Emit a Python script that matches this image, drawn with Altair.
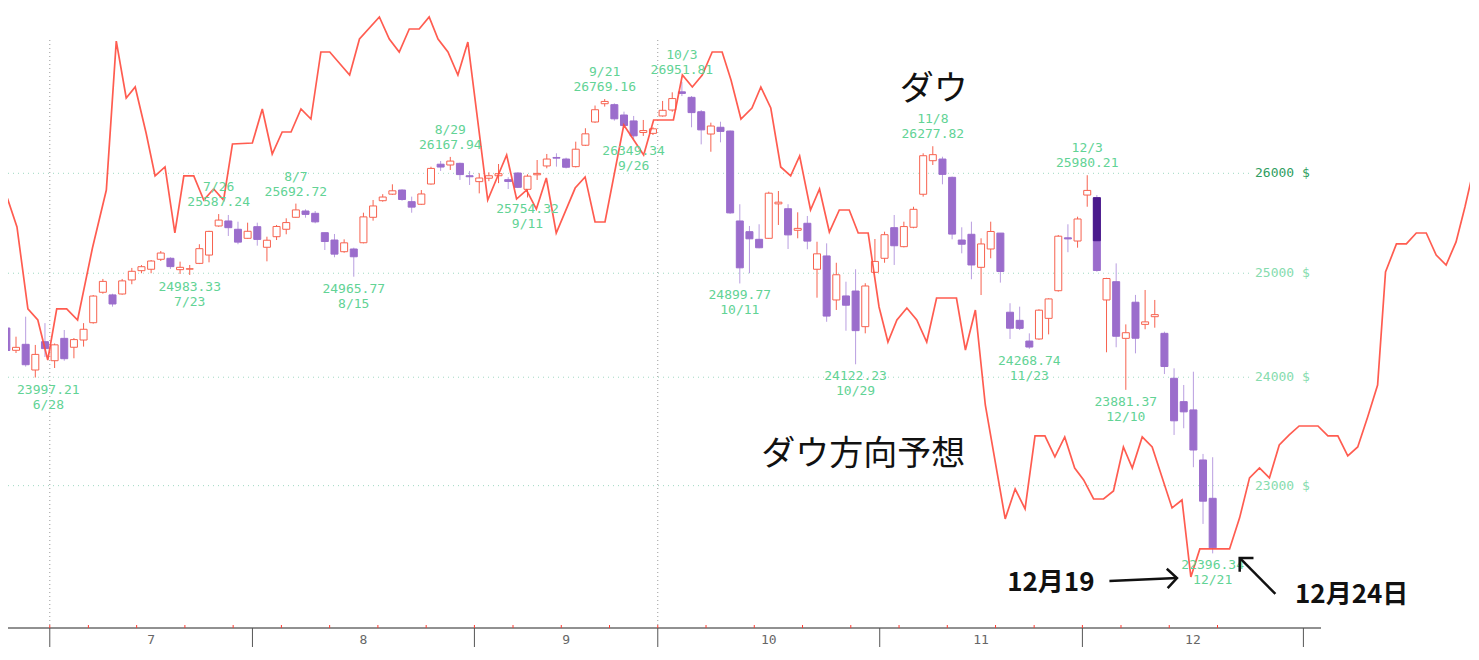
import altair as alt
import pandas as pd

# ---------------- data ----------------
holidays = ["2018-07-04", "2018-09-03", "2018-11-22", "2018-12-05"]
days = [d for d in pd.bdate_range("2018-06-25", "2018-12-21")
        if d.strftime("%Y-%m-%d") not in holidays]
day_labels = [f"{d.month}/{d.day}" for d in days]

opens = [24468, 24255, 24312, 24068, 24337,
         24156, 24369, 24284, 24353, 24519, 24814, 24788, 24797, 24934, 25025, 25039, 25137, 25147, 25035, 25040,
         25097, 25179, 25468, 25518, 25435, 25345,
         25461, 25256, 25361, 25435, 25555, 25618, 25595, 25401, 25328, 25212, 25239, 25301, 25555, 25722, 25788,
         25830, 25712, 25686, 25891, 26093, 26085, 26102, 25975,
         25915, 25950, 25975, 25935, 26003, 25837, 25985, 26075, 26162, 26146, 26068, 26288, 26529, 26720, 26710,
         26602, 26540, 26420, 26411,
         26592, 26654, 26845, 26787, 26636, 26404, 26474, 26435, 25518, 25411, 25335, 25345, 25690, 25641, 25425,
         25495, 25039, 25170, 24739, 24778, 24826, 24481, 25009,
         25147, 25451, 25262, 25455, 25787, 26129, 26146, 25959, 25328, 25385, 25058, 25239, 25397, 24620, 24542,
         24343, 24363, 24561, 24829, 25350, 25318,
         25779, 25752, 24739, 24917, 24369, 24717, 24503, 24577, 24417, 23990, 23771, 23694, 23233, 22886]
highs = [24520, 24385, 24577, 24306, 24515,
         24320, 24449, 24372, 24515, 24787, 24944, 24800, 24944, 25052, 25080, 25130, 25219, 25157, 25114, 25081,
         25286, 25420, 25587.24, 25578, 25511, 25501,
         25501, 25361, 25478, 25545, 25692.72, 25635, 25618, 25401, 25388, 25335, 25252, 25601, 25729, 25788, 25888,
         25837, 25763, 25830, 26067, 26126, 26167.94, 26109, 26024,
         26000, 26010, 26095, 25960, 26010, 25990, 26136, 26198, 26205, 26160, 26325, 26464, 26701, 26769.16, 26724,
         26637, 26592, 26550, 26474,
         26749, 26840, 26951.81, 26801, 26654, 26522, 26532, 26440, 25686, 25468, 25485, 25813, 25820, 25686, 25605,
         25568, 25311, 25295, 25103, 24917, 25039, 24902, 25338,
         25411, 25578, 25511, 25661, 26205, 26277.82, 26170, 25966, 25455, 25511, 25345, 25511, 25397, 24707, 24674,
         24417, 24649, 24755, 25378, 25485, 25561,
         25980.21, 25779, 24955, 25097, 24503, 24788, 24836, 24739, 24433, 24084, 23927, 24052, 23288, 23258]
lows = [24087, 24229, 24100, 23997.21, 24191,
        24087, 24156, 24179, 24290, 24510, 24800, 24674, 24790, 24892, 25000, 25000, 25120, 25042, 24993, 24983.33,
        25090, 25107, 25460, 25368, 25286, 25340,
        25272, 25117, 25328, 25385, 25550, 25551, 25495, 25229, 25157, 25202, 24965.77, 25295, 25521, 25712, 25780,
        25722, 25601, 25680, 25885, 26024, 26034, 25932, 25881,
        25796, 25920, 25900, 25840, 25850, 25754.32, 25932, 26051, 26068, 26050, 26060, 26280, 26520, 26690, 26543,
        26480, 26349.34, 26384, 26394,
        26585, 26636, 26800, 26474, 26297, 26221, 26318, 25590, 24899.77, 25000, 25246, 25340, 25478, 25239, 25345,
        25236, 24761, 24528, 24642, 24442, 24122.23, 24417, 25002,
        25103, 25081, 25255, 25445, 25763, 26085, 25888, 25335, 25196, 24941, 24787, 25147, 24908, 24363, 24449,
        24268.74, 24355, 24407, 24820, 25207, 25252,
        25661, 25015, 24236, 24284, 23881.37, 24226, 24456, 24471, 24030, 23462, 23524, 23167, 22657, 22396.34]
closes = [24253, 24283, 24118, 24216, 24271,
          24307, 24175, 24357, 24456, 24777, 24920, 24700, 24925, 25019, 25064, 25120, 25199, 25065, 25058, 25044,
          25242, 25414, 25527, 25451, 25307, 25415,
          25334, 25326, 25463, 25502, 25629, 25584, 25509, 25313, 25188, 25300, 25162, 25559, 25669, 25759, 25822,
          25734, 25657, 25790, 26050, 26064, 26125, 25987, 25965,
          25952, 25975, 25996, 25917, 25857, 25971, 25999, 26146, 26155, 26062, 26247, 26406, 26657, 26744, 26562,
          26492, 26385, 26440, 26458,
          26651, 26774, 26828, 26627, 26447, 26487, 26431, 25599, 25053, 25340, 25251, 25798, 25707, 25379, 25444,
          25317, 25191, 24583, 24985, 24688, 24443, 24875, 25116,
          25381, 25271, 25462, 25635, 26180, 26191, 25989, 25387, 25286, 25081, 25289, 25413, 25017, 24466, 24465,
          24286, 24640, 24749, 25366, 25339, 25538,
          25826, 25027, 24948, 24389, 24423, 24370, 24527, 24597, 24101, 23593, 23676, 23324, 22860, 22445]

# highlighted (dark) part of the 12/4 candle
hl_date = "12/4"
hl_top, hl_bottom = 25752, 25321

# forecast line "ダウ方向予想": x in trading-day positions, y in dollars
fc_x = [-0.14, 0.17, 1.10, 2.23, 3.26, 4.29, 5.22, 6.25, 7.38, 8.92, 10.36, 11.39, 12.42, 13.35, 14.48,
        15.41, 16.44, 17.46, 18.39, 19.42, 20.45, 21.48, 22.51, 23.43, 25.49, 26.52, 27.55, 28.58, 29.50,
        30.53, 31.56, 32.59, 33.51, 35.57, 36.59, 38.65, 39.68, 40.71, 41.75, 42.78, 43.81, 44.73, 45.76,
        46.79, 47.82, 49.88, 51.84, 52.87, 53.90, 54.92, 55.95, 56.98, 58.94, 59.97, 61.00, 62.03, 63.98,
        66.04, 67.07, 69.12, 70.05, 71.08, 72.11, 73.14, 74.17, 75.09, 76.12, 77.26, 78.18, 79.21, 80.24,
        81.27, 82.20, 83.33, 84.26, 85.28, 86.31, 87.34, 88.27, 89.30, 90.43, 91.35, 92.28, 93.31, 94.34,
        95.37, 96.39, 98.45, 99.38, 100.41, 101.44, 103.50, 104.53, 105.56, 106.59, 107.62, 108.65, 109.67,
        110.70, 111.63, 112.66, 113.69, 114.72, 115.75, 116.67, 117.70, 118.73, 120.79, 121.82, 122.74,
        123.67, 126.75, 127.79, 128.82, 129.85, 130.88, 131.90, 132.93, 133.96, 135.91, 136.94, 137.97,
        139.00, 140.03, 141.06, 142.09, 142.91, 144.04, 145.07, 146.10, 147.13, 148.16, 149.19, 150.22,
        151.14, 152.07]
fc_y = [25678, 25729, 25458, 24652, 24545, 24163, 24652, 24652, 24545, 25249, 25830, 27385, 26780, 26896, 26415,
        25973, 26065, 25398, 25973, 25973, 25729, 25840, 25729, 26301, 26311, 26665, 26198, 26425, 26425,
        26665, 26560, 27268, 27268, 27023, 27407, 27645, 27407, 27268, 27515, 27515, 27645, 27407, 27268,
        27023, 27374, 25729, 26188, 25739, 25830, 25638, 25952, 25398, 25850, 25963, 25508, 25508, 26498,
        26188, 26550, 26550, 27023, 26896, 27023, 27268, 27268, 26970, 26560, 26675, 26896, 26675, 26065,
        25973, 26177, 25628, 25840, 25408, 25628, 25628, 25398, 25398, 24671, 24334, 24545, 24661, 24545,
        24334, 24758, 24758, 24258, 24642, 23740, 22702, 22970, 22791, 23453, 23453, 23261, 23444,
        23160, 23052, 22880, 22880, 22952, 23352, 23160, 23444, 23352, 22800, 22871, 22190,
        22436, 22436, 22711, 23070, 23160, 23070, 23370, 23462, 23545, 23545, 23453, 23453,
        23270, 23352, 23629, 23927, 25012, 25289, 25289, 25398, 25398, 25179, 25081, 25309,
        25659, 26055]

# marked highs and lows
low_marks = ["6/28", "7/23", "8/15", "9/11", "9/26", "10/11", "10/29", "11/23", "12/10", "12/21"]
high_marks = ["7/26", "8/7", "8/29", "9/21", "10/3", "11/8", "12/3"]

# axis
price_levels = [23000, 24000, 25000, 26000]
month_names = ["7", "8", "9", "10", "11", "12"]
jan_edge = 134.4          # start of January on the (future) axis
quarter_months = ["7", "10"]

# annotations (position in trading days / dollars)
notes = pd.DataFrame({
    "text": ["ダウ", "ダウ方向予想"],
    "x": [96.09, 88.78],
    "y": [26864, 23279],
})
bold_notes = pd.DataFrame({
    "text": ["12月19", "12月24日"],
    "x": [108.23, 139.4],
    "y": [22138, 22034],
})
arrows = pd.DataFrame({
    "x": [114.3, 131.5], "y": [22155, 22043],
    "x2": [121.3, 127.8], "y2": [22181, 22357],
    "ang": [357.5, 225.0],
})

# ---------------- build tables ----------------
candles = pd.DataFrame({
    "i": list(range(len(days))), "date": day_labels,
    "open": opens, "high": highs, "low": lows, "close": closes,
})
up = candles[candles.close >= candles.open]
down = candles[candles.close < candles.open]
hl = candles[candles.date == hl_date].assign(top=hl_top, bottom=hl_bottom)

lab_rows = []
for d in low_marks:
    r = candles[candles.date == d].iloc[0]
    lab_rows.append({"i": r.i, "p": r.low, "val": f"{r.low:.2f}", "date": d, "kind": "low"})
for d in high_marks:
    r = candles[candles.date == d].iloc[0]
    lab_rows.append({"i": r.i, "p": r.high, "val": f"{r.high:.2f}", "date": d, "kind": "high"})
labs = pd.DataFrame(lab_rows)
lows_l = labs[labs.kind == "low"]
lows_edge = lows_l.iloc[:1]      # label at the left edge of the view
lows_rest = lows_l.iloc[1:]
highs_l = labs[labs.kind == "high"]

fc = pd.DataFrame({"x": fc_x, "y": fc_y, "n": list(range(len(fc_x)))})

# month edges & weekly ticks from the trading calendar
days_ext = days + [pd.Timestamp("2018-12-24")]
month_edges = [k - 0.5 for k in range(1, len(days)) if days[k].month != days[k - 1].month] + [jan_edge]
months = pd.DataFrame({
    "label": month_names,
    "c": [(month_edges[k] + month_edges[k + 1]) / 2 for k in range(len(month_names))],
})
edges = pd.DataFrame({"e": month_edges})
quarters = pd.DataFrame({"e": [month_edges[month_names.index(m)] for m in quarter_months]})
weeks = pd.DataFrame({"w": [k + 0.5 for k in range(len(days_ext) - 1)
                            if days_ext[k + 1].weekday() < days_ext[k].weekday()]})
levels = pd.DataFrame({"p": price_levels, "t": [f"{v} $" for v in price_levels]})
one = pd.DataFrame({"a": [0]})

# ---------------- scales & styles ----------------
W, H = 1462, 640
xs = alt.Scale(domain=[0.688, 151.146], nice=False, zero=False)
ys = alt.Scale(type="log", domain=[21580, 27743], nice=False)
UP = "#f7624f"
DOWN = "#9b6dcc"
DOWN_WICK = "#b99ee0"
GREEN = "#62d395"
MONO = "DejaVu Sans Mono"
JP = "Noto Sans CJK JP"


def X(f):
    return alt.X(f, type="quantitative", scale=xs, axis=None)


def Y(f):
    return alt.Y(f, type="quantitative", scale=ys, axis=None)


grid = alt.Chart(levels).mark_rule(color="#9fd9c2", strokeDash=[1, 4], strokeWidth=1).encode(
    y=Y("p"), x=alt.value(0), x2=alt.value(1242))
grid_lab = alt.Chart(levels).mark_text(font=MONO, fontSize=13, align="left", baseline="middle").encode(
    y=Y("p"), x=alt.value(1247), text="t:N",
    color=alt.condition(alt.datum.p == 26000, alt.value("#2f9e5f"), alt.value("#86dcae")))
qlines = alt.Chart(quarters).mark_rule(color="#9a9a9a", strokeDash=[1, 3], strokeWidth=1).encode(
    x=X("e"), y=alt.value(32), y2=alt.value(620))

axis_line = alt.Chart(one).mark_rule(color="#222222", strokeWidth=1).encode(
    x=alt.value(0), x2=alt.value(1313), y=alt.value(620))
edge_ticks = alt.Chart(edges).mark_rule(color="#555555", strokeWidth=1).encode(
    x=X("e"), y=alt.value(620), y2=alt.value(639))
week_ticks = alt.Chart(weeks).mark_rule(color="#ff3b30", strokeWidth=1).encode(
    x=X("w"), y=alt.value(617), y2=alt.value(620))
month_lab = alt.Chart(months).mark_text(font=MONO, fontSize=13, color="#666666", baseline="middle").encode(
    x=X("c"), y=alt.value(632), text="label:N")

wick_up = alt.Chart(up).mark_rule(color=UP, strokeWidth=1).encode(x=X("i"), y=Y("low"), y2="high")
wick_dn = alt.Chart(down).mark_rule(color=DOWN_WICK, strokeWidth=1).encode(x=X("i"), y=Y("low"), y2="high")
body_up = alt.Chart(up).mark_bar(size=7, fill="white", stroke=UP, strokeWidth=1).encode(
    x=X("i"), y=Y("open"), y2="close")
body_dn = alt.Chart(down).mark_bar(size=7, fill=DOWN, stroke=DOWN, strokeWidth=1).encode(
    x=X("i"), y=Y("open"), y2="close")
body_hl = alt.Chart(hl).mark_bar(size=7, fill="#4a1a8c", stroke="#4a1a8c", strokeWidth=1).encode(
    x=X("i"), y=Y("top"), y2="bottom")

line = alt.Chart(fc).mark_line(color="#ff4a3d", strokeWidth=1.7, clip=True, opacity=0.9).encode(
    x=X("x"), y=Y("y"), order="n:Q")


def label_layer(df, dy, field, dx=0):
    return alt.Chart(df).mark_text(font=MONO, fontSize=13, color=GREEN, baseline="middle",
                                   dy=dy, dx=dx).encode(x=X("i"), y=Y("p"), text=f"{field}:N")


low_v = label_layer(lows_rest, 12, "val")
low_d = label_layer(lows_rest, 27, "date")
edge_v = label_layer(lows_edge, 12, "val", dx=13)
edge_d = label_layer(lows_edge, 27, "date", dx=13)
high_v = label_layer(highs_l, -12, "val")
high_d = label_layer(highs_l, -27, "date")

note_t = alt.Chart(notes).mark_text(font=JP, fontSize=34, color="#111111", baseline="middle").encode(
    x=X("x"), y=Y("y"), text="text:N")
bold_t = alt.Chart(bold_notes).mark_text(font=JP, fontSize=26, fontWeight="bold", color="#111111",
                                         baseline="middle").encode(x=X("x"), y=Y("y"), text="text:N")
arrow_shaft = alt.Chart(arrows).mark_rule(color="#111111", strokeWidth=2.5).encode(
    x=X("x"), y=Y("y"), x2="x2", y2="y2")
arrow_head = alt.Chart(arrows).mark_point(shape="M-1,-1L0,0L-1,1", filled=False, color="#111111",
                                          strokeWidth=2.5, size=380, opacity=1).encode(
    x=X("x2"), y=Y("y2"), angle=alt.Angle("ang:Q", scale=None))

chart = alt.layer(
    grid, qlines, grid_lab,
    wick_up, wick_dn, body_up, body_dn, body_hl,
    line,
    axis_line, edge_ticks, week_ticks, month_lab,
    low_v, low_d, edge_v, edge_d, high_v, high_d,
    note_t, bold_t, arrow_shaft, arrow_head,
).properties(
    width=W, height=H, autosize=alt.AutoSizeParams(type="none"), padding=0,
    background="white",
).configure_view(stroke=None)

chart.save("out.html", embed_options={"renderer": "svg", "actions": False})
